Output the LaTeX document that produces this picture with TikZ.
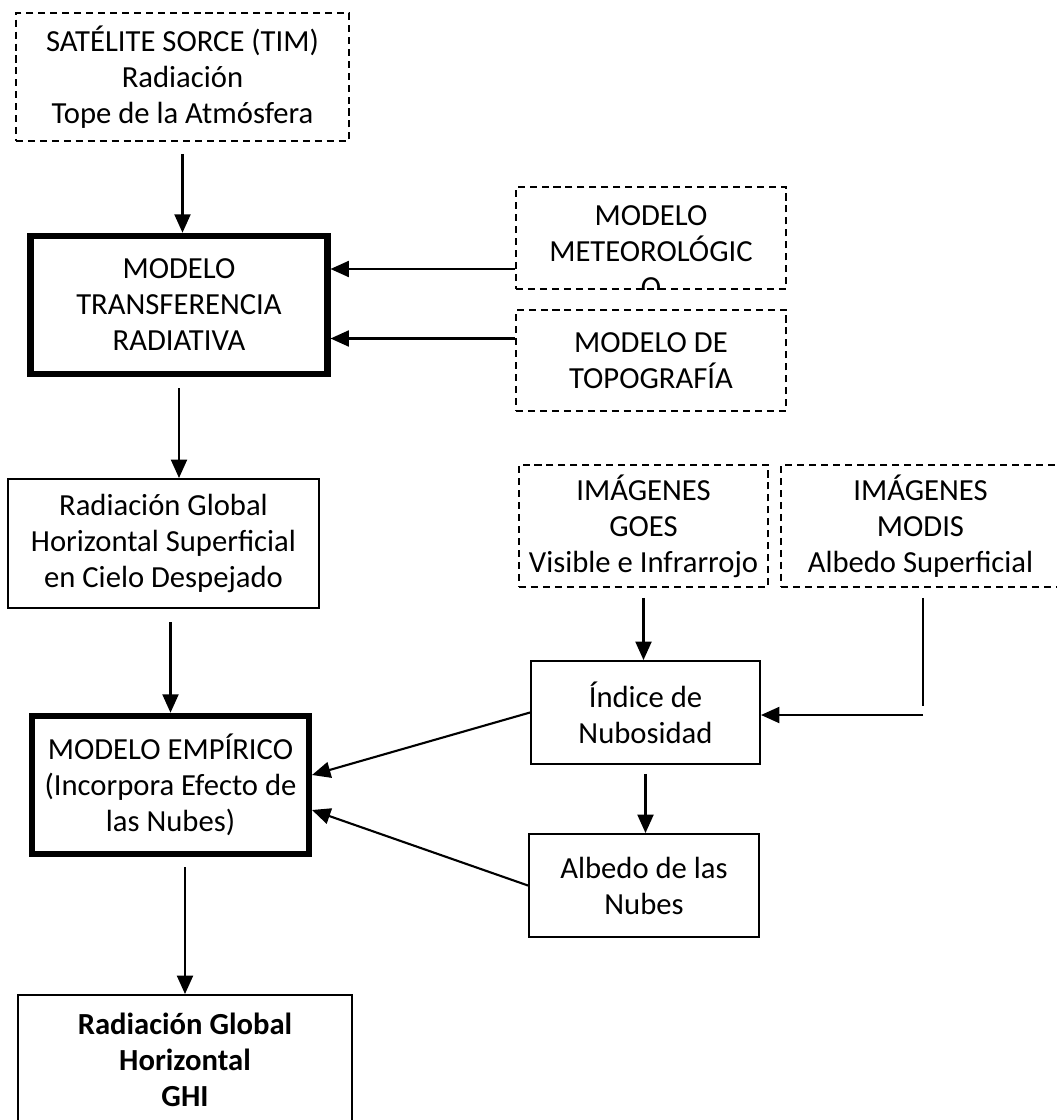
\documentclass[tikz,border=0pt]{standalone}
\usepackage{fontspec}
\setmainfont{Carlito}
\usepackage{tikz}
\usetikzlibrary{shapes,arrows.meta,positioning}
\newcommand{\boxfont}{\fontsize{21.8}{25.6}\selectfont}
\tikzstyle{dashblock}=[rectangle, draw, dash pattern=on 5pt off 3.5pt, line width=1.3pt, align=center, inner sep=0pt]
\tikzstyle{plainblock}=[rectangle, draw, line width=1.4pt, align=center, inner sep=0pt]
\tikzstyle{thickblock}=[rectangle, draw, line width=4.3pt, align=center, inner sep=0pt]
\tikzstyle{link}=[->, line width=1.5pt]

\begin{document}
\begin{tikzpicture}[every node/.style = {font=\boxfont}, >={Triangle[length=4.6mm,width=4mm]}]
\useasboundingbox (0,0) rectangle (26.4,-28);

\node[dashblock, minimum width=8.325cm, minimum height=3.2cm](sat) at (4.5625,-1.925) {SATÉLITE SORCE (TIM)\\Radiación\\Tope de la Atmósfera};
\node[thickblock, minimum width=7.425cm, minimum height=3.4625cm](mtr) at (4.475,-7.625) {MODELO\\TRANSFERENCIA\\RADIATIVA};
\node[dashblock, minimum width=6.75cm, minimum height=2.55cm](met) at (16.275,-5.95) {};
\begin{scope}
\clip (met.south west) rectangle (met.north east);
\node[align=center] (mettext) at (16.275,-6.3) {MODELO\\METEOROLÓGIC\\O};
\end{scope}
\node[dashblock, minimum width=6.75cm, minimum height=2.525cm](topo) at (16.275,-9.0125) {MODELO DE\\TOPOGRAFÍA};
\node[plainblock, minimum width=7.775cm, minimum height=3.225cm](rgs) at (4.0875,-13.5875) {Radiación Global\\Horizontal Superficial\\en Cielo Despejado};
\node[dashblock, minimum width=6.225cm, minimum height=3.05cm](goes) at (16.0875,-13.15) {IMÁGENES\\GOES\\Visible e Infrarrojo};
\node[dashblock, minimum width=6.975cm, minimum height=3.05cm](modis) at (23.0125,-13.15) {IMÁGENES\\MODIS\\Albedo Superficial};
\node[plainblock, minimum width=5.725cm, minimum height=2.575cm](ind) at (16.1375,-17.8125) {Índice de\\Nubosidad};
\node[thickblock, minimum width=6.925cm, minimum height=3.4625cm](emp) at (4.2625,-19.625) {MODELO EMPÍRICO\\(Incorpora Efecto de\\las Nubes)};
\node[plainblock, minimum width=5.75cm, minimum height=2.575cm](alb) at (16.1,-22.1375) {Albedo de las\\Nubes};
\node[plainblock, minimum width=8.35cm, minimum height=3.25cm, font=\boxfont\bfseries](ghi) at (4.625,-26.5) {Radiación Global\\Horizontal\\GHI};
\coordinate (mcorner) at (23.075,-17.875);

\draw[link]([yshift=-0.3cm]sat.south) -- (sat.south |- mtr.north);
\draw[link]([yshift=-0.775cm]met.west) -- ([yshift=-0.775cm]met.west -| mtr.east);
\draw[link]([yshift=0.55cm]topo.west) -- ([yshift=0.55cm]topo.west -| mtr.east);
\draw[link]([yshift=-0.28cm]mtr.south) -- (mtr.south |- rgs.north);
\draw[link]([yshift=-0.33cm]rgs.south -| emp.north) -- (emp.north);
\draw[link]([yshift=-0.25cm]emp.south -| ghi.north) -- (ghi.north);
\draw[link]([yshift=-0.25cm]goes.south) -- (goes.south |- ind.north);
\draw[link]([yshift=-0.22cm]ind.south) -- (ind.south |- alb.north);
\draw[line width=1.5pt]([yshift=-0.25cm]modis.south -| mcorner) -- ([yshift=0.22cm]mcorner);
\draw[link](mcorner) -- (ind.east |- mcorner);
\draw[link](ind.west) -- ([yshift=0.25cm]emp.east);
\draw[link](alb.west) -- ([yshift=-0.625cm]emp.east);

\end{tikzpicture}
\end{document}
